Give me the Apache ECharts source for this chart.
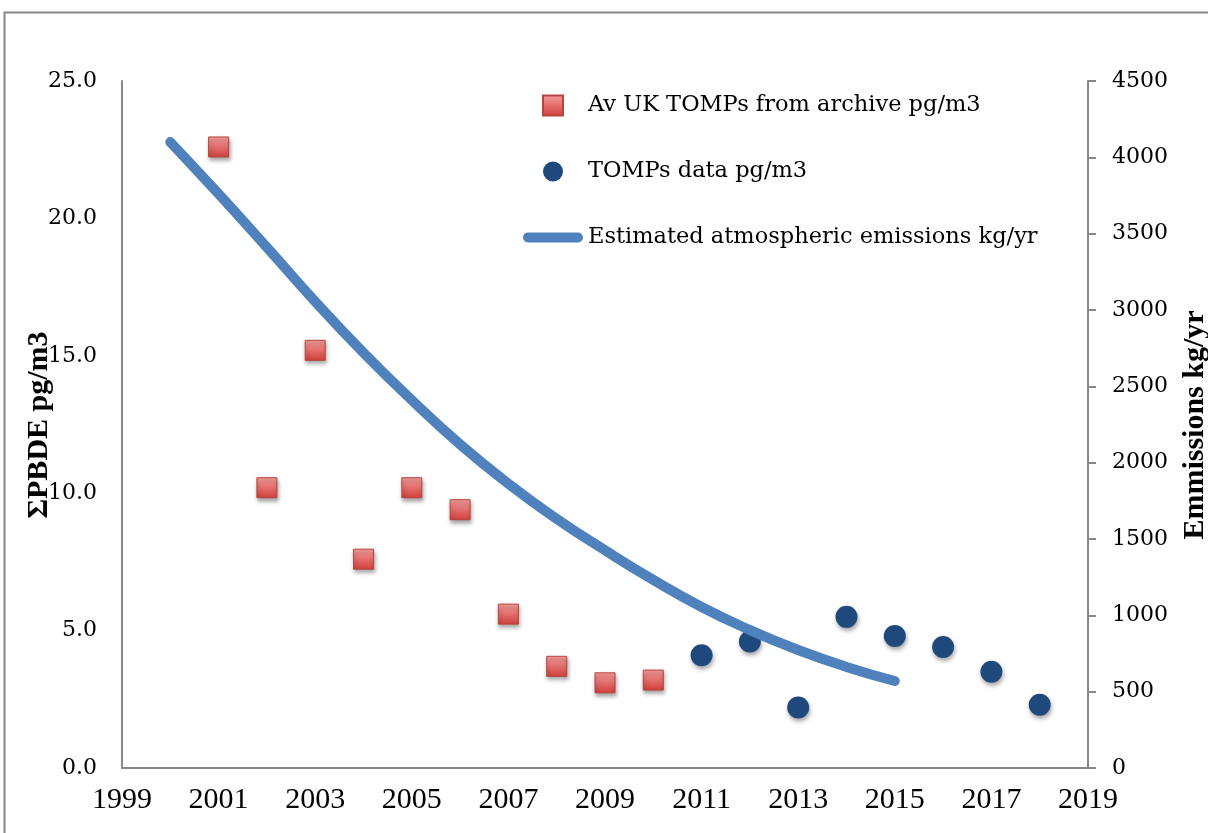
<!DOCTYPE html>
<html>
<head>
<meta charset="utf-8">
<script src="https://cdn.jsdelivr.net/npm/echarts@6.0.0/dist/echarts.min.js"></script>
<style>
  html, body { margin: 0; padding: 0; background: #fff; }
  #main { width: 1208px; height: 833px; }
</style>
</head>
<body>
<div id="main"></div>
<script>
// 档案数据（红色方块）
const archiveYears = [2001, 2002, 2003, 2004, 2005, 2006, 2007, 2008, 2009, 2010]
const archiveValues = [22.6, 10.2, 15.2, 7.6, 10.2, 9.4, 5.6, 3.7, 3.1, 3.2]
// TOMPs 数据（蓝色圆点）
const tompsYears = [2011, 2012, 2013, 2014, 2015, 2016, 2017, 2018]
const tompsValues = [4.1, 4.6, 2.2, 5.5, 4.8, 4.4, 3.5, 2.3]
// 排放估计（右轴）
const emissionYears = [2000, 2001, 2002, 2003, 2004, 2005, 2006, 2007, 2008, 2009, 2010, 2011, 2012, 2013, 2014, 2015]
const emissionValues = [4100, 3760, 3410, 3055, 2720, 2410, 2120, 1862, 1632, 1426, 1232, 1055, 904, 773, 662, 570]

const seriesNames = ['Av UK TOMPs from archive pg/m3', 'TOMPs data pg/m3', 'Estimated atmospheric emissions kg/yr']

let chart = echarts.init(document.getElementById('main'))

let archiveData = archiveYears.map((y, i) => [y, archiveValues[i]])
let tompsData = tompsYears.map((y, i) => [y, tompsValues[i]])
let emissionData = emissionYears.map((y, i) => [y, emissionValues[i]])

const axisGray = '#878787'
const shadow = {
  shadowBlur: 4,
  shadowOffsetX: 1,
  shadowOffsetY: 3,
  shadowColor: 'rgba(0,0,0,0.35)'
}

let option = {
  animation: false,
  backgroundColor: '#fff',
  grid: { left: 122, right: 120, top: 81, bottom: 65 },
  legend: {
    orient: 'vertical',
    left: 518,
    top: 89,
    itemWidth: 60,
    itemHeight: 20,
    itemGap: 43,
    textStyle: { fontFamily: 'DejaVu Serif', fontSize: 22.5, color: '#000' },
    data: [
      { name: seriesNames[0], icon: 'path://M0,0 H20 V20 H0 Z' },
      { name: seriesNames[1] },
      { name: seriesNames[2], icon: 'path://M5,0 H55 A5,5 0 0 1 55,10 H5 A5,5 0 0 1 5,0 Z', itemStyle: { shadowBlur: 0, shadowOffsetX: 0, shadowOffsetY: 0 } }
    ]
  },
  xAxis: {
    type: 'value',
    min: 1999,
    max: 2019,
    interval: 2,
    splitLine: { show: false },
    axisTick: { show: false },
    axisLine: { lineStyle: { color: axisGray, width: 2 } },
    axisLabel: { fontFamily: 'Liberation Serif', fontSize: 30, color: '#000', margin: 17, formatter: v => String(v) }
  },
  yAxis: [{
    type: 'value',
    min: 0,
    max: 25,
    interval: 5,
    splitLine: { show: false },
    axisTick: { show: false },
    axisLine: { show: true, lineStyle: { color: axisGray, width: 2 } },
    axisLabel: {
      fontFamily: 'DejaVu Serif', fontSize: 22, color: '#000', margin: 25,
      formatter: v => v.toFixed(1)
    }
  }, {
    type: 'value',
    position: 'right',
    min: 0,
    max: 4500,
    interval: 500,
    splitLine: { show: false },
    axisTick: { show: true, inside: false, length: 8, lineStyle: { color: axisGray, width: 2 } },
    axisLine: { show: true, lineStyle: { color: axisGray, width: 2 } },
    axisLabel: { fontFamily: 'DejaVu Serif', fontSize: 22, color: '#000', margin: 24, formatter: v => String(v) }
  }],
  graphic: [
    {
      type: 'rect', silent: true,
      shape: { x: 4.5, y: 12.5, width: 1400, height: 1000 },
      style: { fill: 'none', stroke: axisGray, lineWidth: 2 }
    },
    {
      type: 'text', x: 39, y: 425, rotation: Math.PI / 2,
      style: {
        text: 'ΣPBDE pg/m3', fontFamily: 'Liberation Serif', fontWeight: 'bold', fontSize: 30,
        fill: '#000', align: 'center', verticalAlign: 'middle'
      }
    },
    {
      type: 'text', x: 1195, y: 425, rotation: Math.PI / 2,
      style: {
        text: 'Emmissions kg/yr', fontFamily: 'Liberation Serif', fontWeight: 'bold', fontSize: 30,
        fill: '#000', align: 'center', verticalAlign: 'middle'
      }
    }
  ],
  series: [{
    name: seriesNames[0],
    type: 'scatter',
    symbol: 'rect',
    symbolSize: 20,
    itemStyle: Object.assign({
      opacity: 1,
      color: new echarts.graphic.LinearGradient(0, 0, 0, 1, [
        { offset: 0, color: '#f69e9c' },
        { offset: 1, color: '#cf3f3b' }
      ]),
      borderColor: '#b8433f',
      borderWidth: 1
    }, shadow),
    data: archiveData
  }, {
    name: seriesNames[1],
    type: 'scatter',
    symbol: 'circle',
    symbolSize: 22,
    itemStyle: Object.assign({ opacity: 1, color: '#1f497d' }, shadow),
    data: tompsData
  }, {
    name: seriesNames[2],
    type: 'line',
    yAxisIndex: 1,
    smooth: true,
    symbol: 'none',
    itemStyle: { color: '#4f81bd' },
    lineStyle: { color: '#4f81bd', width: 10, cap: 'round' },
    data: emissionData
  }]
}

chart.setOption(option)
</script>
</body>
</html>
